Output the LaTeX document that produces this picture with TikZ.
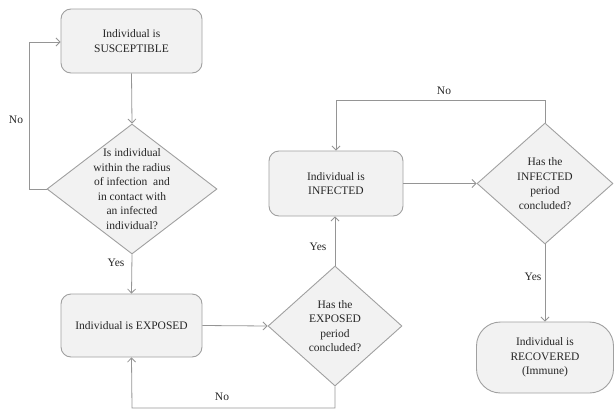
\documentclass[tikz,border=0pt]{standalone}
\usepackage{fontspec}
\setmainfont{Liberation Serif}
\usetikzlibrary{shapes.geometric,arrows.meta}
\definecolor{boxfill}{HTML}{F2F2F2}
\definecolor{boxline}{HTML}{A0A0A0}
\definecolor{arrline}{HTML}{959595}
\tikzset{
  base/.style={draw=boxline, fill=boxfill, line width=0.9pt, align=center,
    font=\fontsize{11.5}{14.5}\selectfont, text=black!85},
  procbox/.style={base, rectangle, rounded corners=10pt, inner sep=0pt},
  decbox/.style={base, diamond, inner sep=-22pt},
  endbox/.style={base, rectangle, rounded corners=24pt, inner sep=0pt},
  conn/.style={draw=arrline, line width=0.8pt, -{Straight Barb[length=4pt,width=8pt]}},
  lbl/.style={font=\fontsize{11.5}{14}\selectfont, text=black!85, inner sep=0pt}
}
\begin{document}
\begin{tikzpicture}[x=1pt,y=-1pt]
\useasboundingbox (0,0) rectangle (614,410);
\node[procbox, minimum width=141pt, minimum height=64pt] (sus) at (131.5,41) {Individual is\\SUSCEPTIBLE};
\node[decbox, minimum width=170pt, minimum height=130pt] (d1) at (132,189) {Is individual\\within the radius\\of infection\ \ and\\in contact with\\an infected\\individual?};
\node[procbox, minimum width=141pt, minimum height=63pt] (exp) at (131.5,325.5) {Individual is EXPOSED};
\node[decbox, minimum width=134pt, minimum height=120pt] (d2) at (335,326) {Has the\\EXPOSED\\period\\concluded?};
\node[procbox, minimum width=134pt, minimum height=65pt] (inf) at (336,183.5) {Individual is\\INFECTED};
\node[decbox, minimum width=136pt, minimum height=121pt] (d3) at (545,183.5) {Has the\\INFECTED\\period\\concluded?};
\node[endbox, minimum width=137pt, minimum height=71pt] (rec) at (545,357.5) {Individual is\\RECOVERED\\(Immune)};

\coordinate (c1) at (29,189);
\coordinate (c2) at (29,42);
\coordinate (c3) at (335,408);
\coordinate (c4) at (132,408);
\coordinate (c5) at (545,100);
\coordinate (c6) at (336,100);

\draw[conn] (sus.south) -- (d1.north);
\draw[conn] (d1.west) -- (c1) -- (c2) -- (c2 -| sus.west);
\draw[conn] (d1.south) -- (exp.north);
\draw[conn] (exp.east) -- (d2.west);
\draw[conn] (d2.south) -- (c3) -- (c4) -- (exp.south);
\draw[conn] (d2.north) -- (d2.north |- inf.south);
\draw[conn] (inf.east) -- (d3.west);
\draw[conn] (d3.north) -- (c5) -- (c6) -- (inf.north);
\draw[conn] (d3.south) -- (rec.north);

\node[lbl] (no1) at (16,120) {No};
\node[lbl] (yes1) at (116,263) {Yes};
\node[lbl] (no2) at (222,397) {No};
\node[lbl] (yes2) at (318,247) {Yes};
\node[lbl] (no3) at (444,91) {No};
\node[lbl] (yes3) at (533,277) {Yes};
\end{tikzpicture}
\end{document}
